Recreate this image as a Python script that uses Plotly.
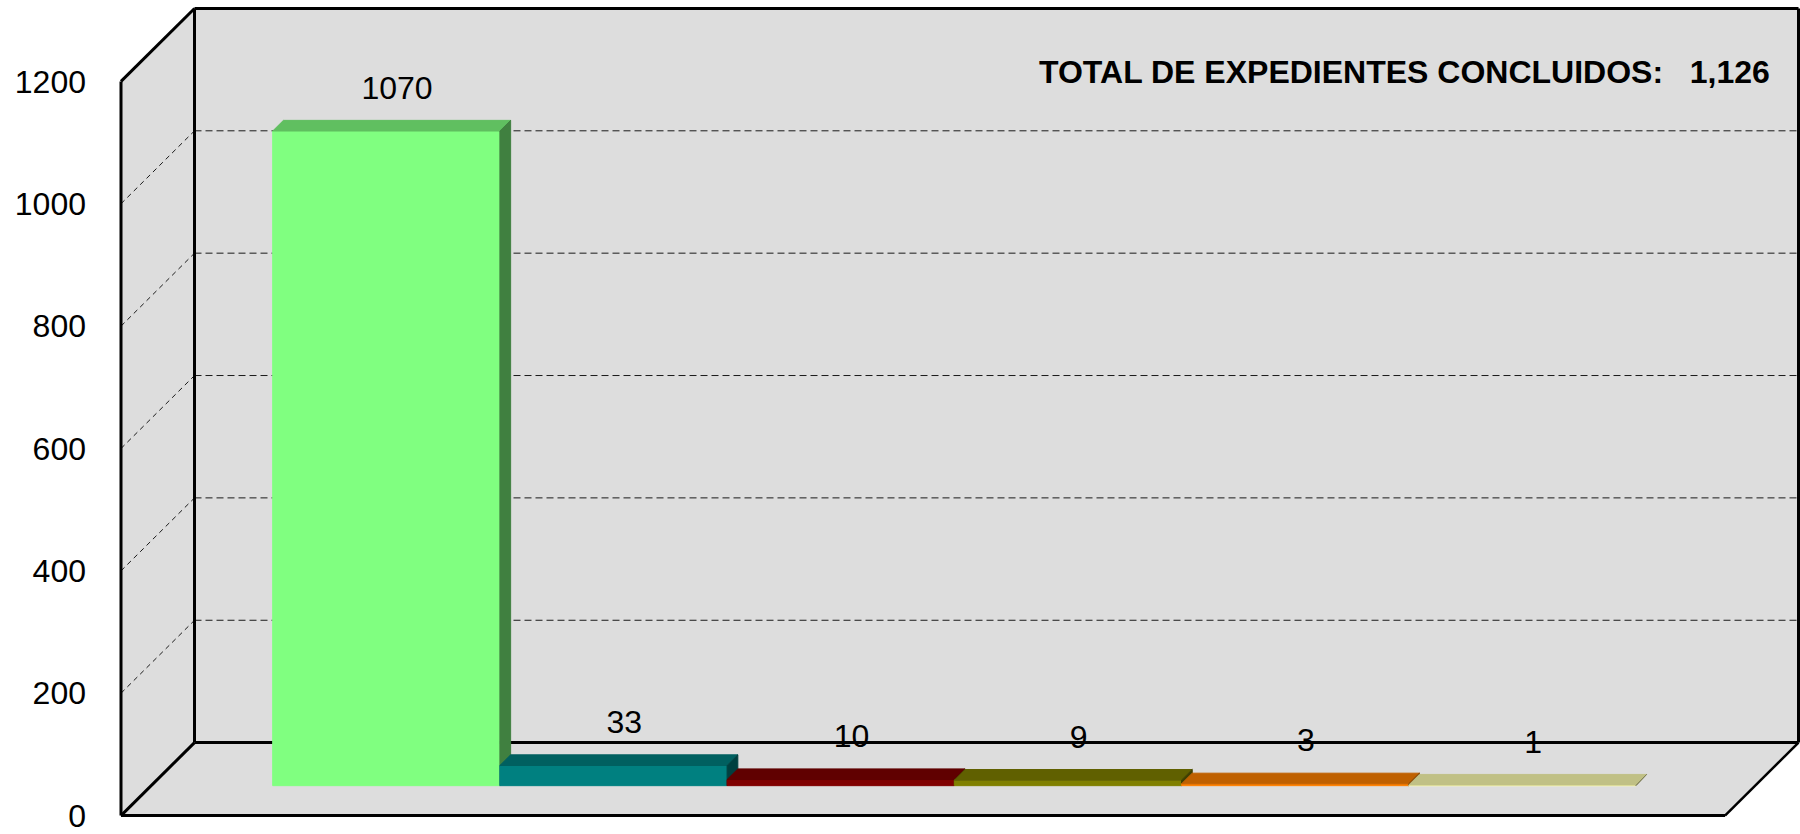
import plotly.graph_objects as go

# ---- data ----
values = [1070, 33, 10, 9, 3, 1]
front_colors = ["#80FF80", "#008080", "#800000", "#808000", "#FF8000", "#FFFFB0"]
top_colors = ["#60BF60", "#006060", "#600000", "#606000", "#BF6000", "#C0C085"]
side_colors = ["#408040", "#004040", "#400000", "#404000", "#804000", "#808058"]
y_ticks = [0, 200, 400, 600, 800, 1000, 1200]
y_max = 1200
title_text = "TOTAL DE EXPEDIENTES CONCLUIDOS:"

# ---- oblique projection set-up ----
W, H = 1800, 834
V_ZERO_PX = 821.5              # screen row of value 0 on the front plane
V_TOP_PX = 82                  # screen row of the axis maximum on the front plane
PX_PER_V = (V_ZERO_PX - V_TOP_PX) / y_max
PX_PER_U = 227.2               # pixels per bar slot
DX_PX, DY_PX = 73.5, 73.5      # screen shift from front to back of the box
D_F, D_B = 0.41, 0.556         # bar front / back depth
U_ZERO_PX = 272.7 - D_F * DX_PX  # column of slot 0 on the front plane
DXU = DX_PX / PX_PER_U
DYV = DY_PX / PX_PER_V
U_L = (121 - U_ZERO_PX) / PX_PER_U
U_R = (1725 - U_ZERO_PX) / PX_PER_U

x_range = [-U_ZERO_PX / PX_PER_U, (W - U_ZERO_PX) / PX_PER_U]
y_range = [-(H - V_ZERO_PX) / PX_PER_V, V_ZERO_PX / PX_PER_V]

FONT = "Liberation Sans, Arial, sans-serif"
WALL = "#DDDDDD"


def proj(u, v, d):
    return u + d * DXU, v + d * DYV


fig = go.Figure()


def poly(points, fill, line_w=0, line_c=None):
    xs, ys = zip(*[proj(*p) for p in points])
    fig.add_trace(go.Scatter(
        x=list(xs) + [xs[0]], y=list(ys) + [ys[0]], mode="lines",
        fill="toself", fillcolor=fill,
        line=dict(width=line_w, color=line_c or fill),
        hoverinfo="skip", showlegend=False))


def seg(p0, p1, width=3, color="black", dash=None):
    x0, y0 = proj(*p0)
    x1, y1 = proj(*p1)
    fig.add_trace(go.Scatter(
        x=[x0, x1], y=[y0, y1], mode="lines",
        line=dict(width=width, color=color, dash=dash),
        hoverinfo="skip", showlegend=False))


# walls and floor
poly([(U_L, 0, 1), (U_R, 0, 1), (U_R, y_max, 1), (U_L, y_max, 1)], WALL)
poly([(U_L, 0, 0), (U_L, 0, 1), (U_L, y_max, 1), (U_L, y_max, 0)], WALL)
poly([(U_L, 0, 0), (U_R, 0, 0), (U_R, 0, 1), (U_L, 0, 1)], WALL)

# dashed gridlines on the back and left walls
for t in y_ticks[1:-1]:
    seg((U_L, t, 1), (U_R, t, 1), width=1, color="#1a1a1a", dash="7px,4px")
    seg((U_L, t, 0), (U_L, t, 1), width=1, color="#1a1a1a", dash="5px,4px")

# box edges
seg((U_L, y_max, 1), (U_R, y_max, 1))
seg((U_R, y_max, 1), (U_R, 0, 1))
seg((U_L, y_max, 1), (U_L, 0, 1))
seg((U_L, 0, 1), (U_R, 0, 1))
seg((U_L, y_max, 0), (U_L, y_max, 1))
seg((U_L, y_max, 0), (U_L, 0, 0))
seg((U_L, 0, 0), (U_L, 0, 1))
seg((U_L, 0, 0), (U_R, 0, 0))
seg((U_R, 0, 0), (U_R, 0, 1), width=2.5)

# bars
for i, v in enumerate(values):
    u0, u1 = i, i + 1
    poly([(u0, 0, D_F), (u1, 0, D_F), (u1, v, D_F), (u0, v, D_F)], front_colors[i], 1)
    poly([(u0, v, D_F), (u1, v, D_F), (u1, v, D_B), (u0, v, D_B)], top_colors[i], 1)
    poly([(u1, 0, D_F), (u1, 0, D_B), (u1, v, D_B), (u1, v, D_F)], side_colors[i], 1)

# value labels above the back edge of each bar top
lx, ly = [], []
for i, v in enumerate(values):
    x, y = proj(i + 0.5, v, D_B)
    lx.append(x)
    ly.append(y + 30 / PX_PER_V)
fig.add_trace(go.Scatter(
    x=lx, y=ly, mode="text", text=[str(v) for v in values],
    textposition="middle center",
    textfont=dict(family=FONT, size=32, color="black"),
    hoverinfo="skip", showlegend=False))

total = sum(values)
fig.add_annotation(
    xref="paper", yref="paper", x=1772 / W, y=1 - 73 / H,
    xanchor="right", yanchor="middle", showarrow=False,
    text="<b>" + title_text + "\u00a0\u00a0\u00a0" + f"{total:,}" + "</b>",
    font=dict(family=FONT, size=32, color="black"))

fig.update_layout(
    width=W, height=H,
    margin=dict(l=0, r=0, t=0, b=0),
    paper_bgcolor="white", plot_bgcolor="white",
    hovermode=False,
    xaxis=dict(range=x_range, visible=False, fixedrange=True),
    yaxis=dict(
        range=y_range, anchor="free", position=121 / W,
        tickvals=y_ticks, ticks="", showgrid=False, zeroline=False,
        showline=False, ticklabelstandoff=35, ticklabeloverflow="allow",
        tickfont=dict(family=FONT, size=32, color="black"),
        fixedrange=True),
)

fig.write_html("out.html")
